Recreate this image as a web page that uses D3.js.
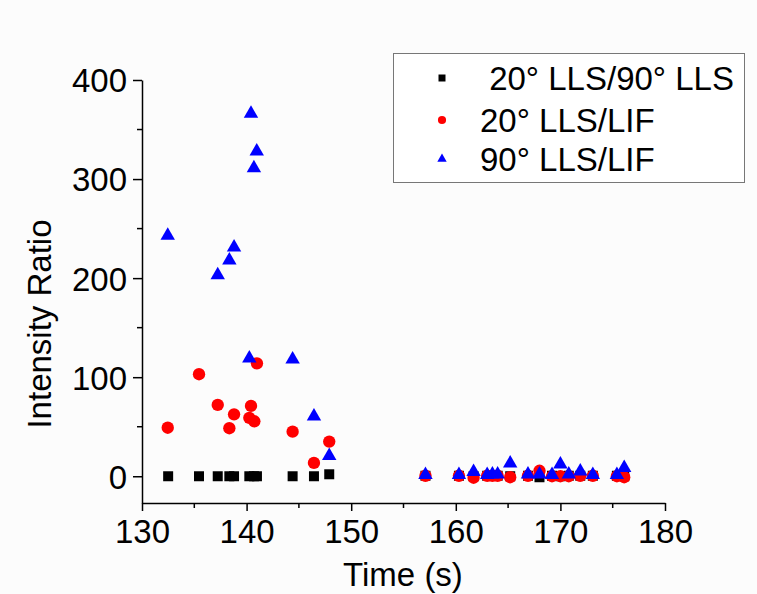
<!DOCTYPE html>
<html><head><meta charset="utf-8">
<script src="https://cdn.jsdelivr.net/npm/d3@7"></script>
<style>
html,body{margin:0;padding:0;background:#fcfcfc;}
text{font-family:"Liberation Sans",Arial,sans-serif;fill:#000;}
</style></head>
<body><svg id="c" width="757" height="594"></svg>
<script>
// Data
const seriesNames = ["\u00a020\u00b0 LLS/90\u00b0 LLS", "20\u00b0 LLS/LIF", "90\u00b0 LLS/LIF"];
const squareTime = [132.5,135.45,137.24,138.35,138.8,140.26,140.7,140.99,144.4,146.44,147.9,
  157.1,160.3,161.7,163.0,163.5,164.0,165.2,166.9,168.0,169.2,170.0,170.8,171.9,173.1,175.4,176.1];
const squareValue = [0,0,0,0,0,0,0,0,0,0,2,
  0.5,0.5,0,0.5,0.5,0.5,0,0.5,-1,0.5,0,0.5,0.5,0.5,0.5,0];
const circleTime = [132.46,135.45,137.24,138.35,138.8,140.26,140.42,140.74,140.99,144.4,146.44,147.9,
  157.1,160.3,161.7,163.0,163.5,164.0,165.2,166.9,168.0,169.2,170.0,170.8,171.9,173.1,175.4,176.1];
const circleValue = [49,103,72,48.5,62.5,59,71,55.5,114,45,13.5,35,
  0.5,0.5,-1.5,0.5,0.5,0.5,-1,0.5,5.5,0,0,0,0.5,0.5,0,-1];
const triTime = [132.46,137.24,138.35,138.8,140.42,140.7,140.97,140.26,144.4,146.44,147.9,
  157.1,160.3,161.7,163.0,163.5,164.0,165.2,166.9,168.0,169.2,170.0,170.8,171.9,173.1,175.4,176.1];
const triValue = [243,203,218,231,366,311,328,119,118,60.5,20.5,
  1.5,1.5,4.5,1.5,2,2,13,2,2,1.5,12,2,5,1.5,1.5,8.5];
const xTicks = [130,140,150,160,170,180];
const yTicks = [0,100,200,300,400];

const svg = d3.select("#c");
svg.append("rect").attr("width",757).attr("height",594).attr("fill","#fcfcfc");

const x = d3.scaleLinear().domain([130,180]).range([142,665]);
const y = d3.scaleLinear().domain([-27,400]).range([503,80]);
const FS = 33;

// Axes
const xAxis = d3.axisBottom(x).tickValues(xTicks).tickSize(8).tickSizeOuter(0).tickFormat(d3.format("d"));
const gx = svg.append("g").attr("transform","translate(0,503)").call(xAxis);
const yAxis = d3.axisLeft(y).tickValues(yTicks).tickSize(9).tickPadding(6).tickSizeOuter(0).tickFormat(d3.format("d"));
const gy = svg.append("g").attr("transform","translate(142,0)").call(yAxis);
[gx,gy].forEach(g=>{
  g.select(".domain").attr("stroke","#000").attr("stroke-width",1.5);
  g.selectAll(".tick line").attr("stroke","#000").attr("stroke-width",1.5);
  g.selectAll(".tick text").attr("font-size",FS).attr("font-family","Liberation Sans, Arial, sans-serif").attr("fill","#000");
});
gx.selectAll(".tick text").attr("y",40).attr("dy",0);
gy.selectAll(".tick text").attr("dy","0.36em");
// minor ticks
svg.append("g").selectAll("line").data(d3.range(135,180,10)).join("line")
  .attr("x1",d=>x(d)).attr("x2",d=>x(d)).attr("y1",503).attr("y2",508)
  .attr("stroke","#000").attr("stroke-width",1.5);
svg.append("g").selectAll("line").data(d3.range(50,400,100)).join("line")
  .attr("y1",d=>y(d)).attr("y2",d=>y(d)).attr("x1",142).attr("x2",137)
  .attr("stroke","#000").attr("stroke-width",1.5);

// Axis titles
svg.append("text").attr("x",403).attr("y",586).attr("text-anchor","middle").attr("font-size",FS).text("Time (s)");
svg.append("text").attr("transform","translate(51,324) rotate(-90)").attr("text-anchor","middle").attr("font-size",FS).text("Intensity Ratio");

// Markers
const sq = d3.symbol().type(d3.symbolSquare).size(100);
const ci = d3.symbol().type(d3.symbolCircle).size(120);
const tr = d3.symbol().type(d3.symbolTriangle).size(90);
svg.append("g").selectAll("path").data(d3.zip(squareTime,squareValue)).join("path")
  .attr("d",sq).attr("transform",d=>`translate(${x(d[0])},${y(d[1])})`).attr("fill","#000");
svg.append("g").selectAll("path").data(d3.zip(circleTime,circleValue)).join("path")
  .attr("d",ci).attr("transform",d=>`translate(${x(d[0])},${y(d[1])})`).attr("fill","#ff0000");
svg.append("g").selectAll("path").data(d3.zip(triTime,triValue)).join("path")
  .attr("d",tr).attr("transform",d=>`translate(${x(d[0])},${y(d[1])})`).attr("fill","#0000ff");

// Legend
const lg = svg.append("g");
lg.append("rect").attr("x",393.5).attr("y",53.5).attr("width",351).attr("height",129)
  .attr("fill","#fff").attr("stroke","#777").attr("stroke-width",1);
const legSyms = [d3.symbol().type(d3.symbolSquare).size(49)(), d3.symbol().type(d3.symbolCircle).size(52)(), d3.symbol().type(d3.symbolTriangle).size(38)()];
const legCols = ["#000","#ff0000","#0000ff"];
const legY = [78,120,159];
const legBase = [90,132,171];
seriesNames.forEach((n,i)=>{
  lg.append("path").attr("d",legSyms[i]).attr("transform",`translate(442,${legY[i]})`).attr("fill",legCols[i]);
  lg.append("text").attr("x",480).attr("y",legBase[i]).attr("font-size",FS).style("white-space","pre").text(n);
});
</script></body></html>
